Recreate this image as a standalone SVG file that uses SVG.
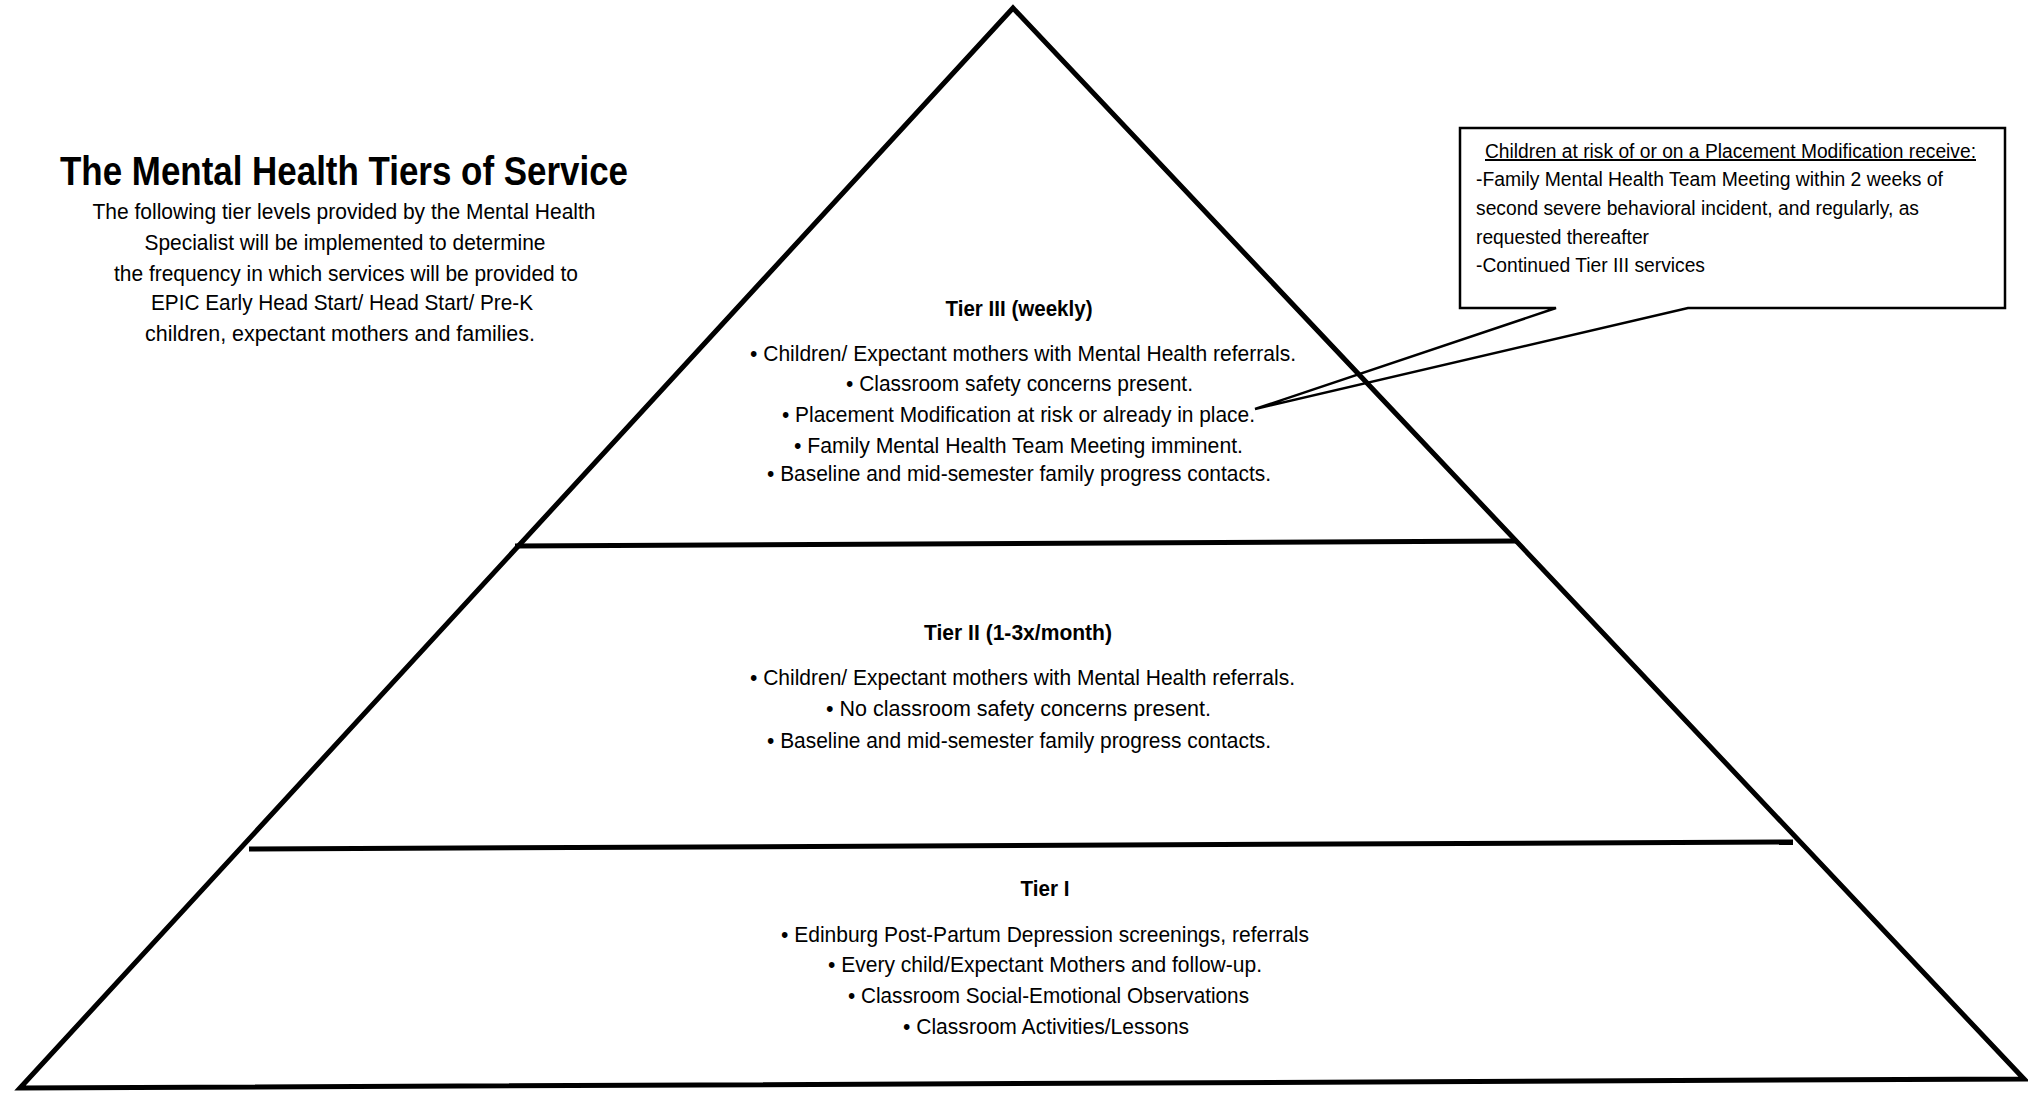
<svg xmlns="http://www.w3.org/2000/svg" width="2028" height="1094" viewBox="0 0 2028 1094">
<style>
.t{font-family:"Liberation Sans",Arial,sans-serif;fill:#000}
.body{font-size:22px}
.hd{font-size:22px;font-weight:bold}
.co{font-size:20px}
.ln{stroke:#000;fill:none;stroke-linecap:butt}
</style>
<rect width="2028" height="1094" fill="#fff"/>
<g id="title">
<text class="t" x="344" y="185" font-size="40" font-weight="bold" text-anchor="middle" textLength="568" lengthAdjust="spacingAndGlyphs">The Mental Health Tiers of Service</text>
<text class="t body" x="344" y="219" text-anchor="middle" textLength="503" lengthAdjust="spacingAndGlyphs">The following tier levels provided by the Mental Health</text>
<text class="t body" x="345" y="250" text-anchor="middle" textLength="401" lengthAdjust="spacingAndGlyphs">Specialist will be implemented to determine</text>
<text class="t body" x="346" y="281" text-anchor="middle" textLength="464" lengthAdjust="spacingAndGlyphs">the frequency in which services will be provided to</text>
<text class="t body" x="342" y="310" text-anchor="middle" textLength="382" lengthAdjust="spacingAndGlyphs">EPIC Early Head Start/ Head Start/ Pre-K</text>
<text class="t body" x="340" y="341" text-anchor="middle" textLength="390" lengthAdjust="spacingAndGlyphs">children, expectant mothers and families.</text>
</g>
<g id="pyramid">
<polygon class="ln" points="1013,8 20,1088 2024,1079" stroke-width="5" stroke-linejoin="miter"/>
</g>
<g id="dividers">
<line class="ln" x1="515" y1="546" x2="1517" y2="541" stroke-width="5"/>
<line class="ln" x1="249" y1="849" x2="1793" y2="842" stroke-width="5"/>
</g>
<g id="tier3">
<text class="t hd" x="1019" y="316" text-anchor="middle" textLength="147" lengthAdjust="spacingAndGlyphs">Tier III (weekly)</text>
<text class="t body" x="750" y="361" textLength="546" lengthAdjust="spacingAndGlyphs">• Children/ Expectant mothers with Mental Health referrals.</text>
<text class="t body" x="846" y="391" textLength="347" lengthAdjust="spacingAndGlyphs">• Classroom safety concerns present.</text>
<text class="t body" x="782" y="422" textLength="473" lengthAdjust="spacingAndGlyphs">• Placement Modification at risk or already in place.</text>
<text class="t body" x="794" y="453" textLength="449" lengthAdjust="spacingAndGlyphs">• Family Mental Health Team Meeting imminent.</text>
<text class="t body" x="767" y="481" textLength="504" lengthAdjust="spacingAndGlyphs">• Baseline and mid-semester family progress contacts.</text>
</g>
<g id="tier2">
<text class="t hd" x="1018" y="640" text-anchor="middle" textLength="188" lengthAdjust="spacingAndGlyphs">Tier II (1-3x/month)</text>
<text class="t body" x="750" y="685" textLength="545" lengthAdjust="spacingAndGlyphs">• Children/ Expectant mothers with Mental Health referrals.</text>
<text class="t body" x="826" y="716" textLength="385" lengthAdjust="spacingAndGlyphs">•  No classroom safety concerns present.</text>
<text class="t body" x="767" y="748" textLength="504" lengthAdjust="spacingAndGlyphs">• Baseline and mid-semester family progress contacts.</text>
</g>
<g id="tier1">
<text class="t hd" x="1045" y="896" text-anchor="middle" textLength="49" lengthAdjust="spacingAndGlyphs">Tier I</text>
<text class="t body" x="781" y="942" textLength="528" lengthAdjust="spacingAndGlyphs">• Edinburg Post-Partum Depression screenings, referrals</text>
<text class="t body" x="828" y="972" textLength="434" lengthAdjust="spacingAndGlyphs">• Every child/Expectant Mothers and follow-up.</text>
<text class="t body" x="848" y="1003" textLength="401" lengthAdjust="spacingAndGlyphs">• Classroom Social-Emotional Observations</text>
<text class="t body" x="903" y="1034" textLength="286" lengthAdjust="spacingAndGlyphs">• Classroom Activities/Lessons</text>
</g>
<g id="connectors">
<path class="ln" d="M1460,128 H2005 V308 H1688 L1255,409 L1556,308 H1460 Z" stroke-width="2.5" fill="#fff" stroke-linejoin="miter"/>
</g>
<g id="callout">
<text class="t co" x="1485" y="158" textLength="491" lengthAdjust="spacingAndGlyphs" text-decoration="underline">Children at risk of or on a Placement Modification receive:</text>
<text class="t co" x="1476" y="186" textLength="467" lengthAdjust="spacingAndGlyphs">-Family Mental Health Team Meeting within 2 weeks of</text>
<text class="t co" x="1476" y="215" textLength="443" lengthAdjust="spacingAndGlyphs">second severe behavioral incident, and regularly, as</text>
<text class="t co" x="1476" y="244" textLength="173" lengthAdjust="spacingAndGlyphs">requested thereafter</text>
<text class="t co" x="1476" y="272" textLength="229" lengthAdjust="spacingAndGlyphs">-Continued Tier III services</text>
</g>
</svg>
